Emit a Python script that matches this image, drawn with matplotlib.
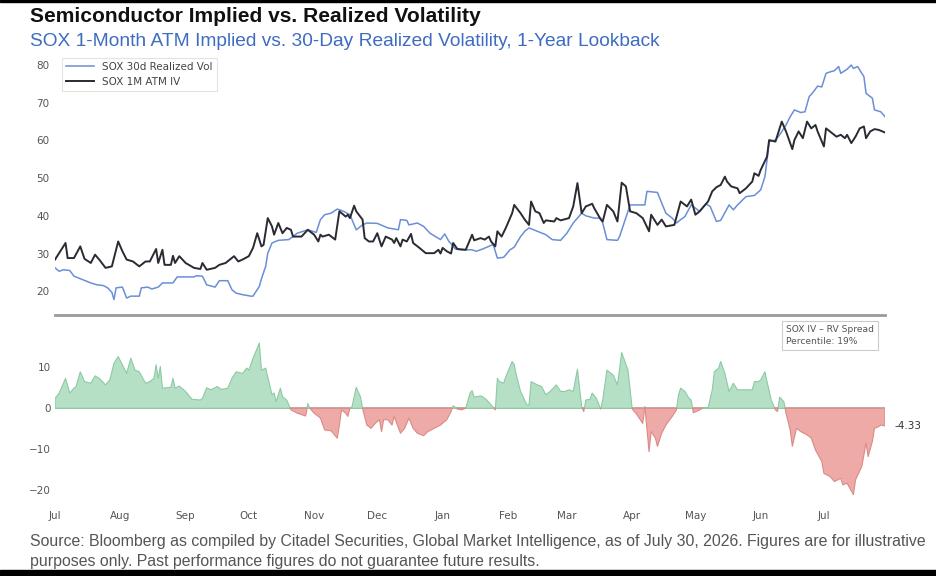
import numpy as np
import pandas as pd
import matplotlib
matplotlib.use('Agg')
from matplotlib import pyplot as plt
import matplotlib.dates as mdates
from matplotlib.patches import Rectangle

# day offsets from 1 Jul 2025
start = pd.Timestamp('2025-07-01')

iv_days = [0, 5, 6, 9, 12, 14, 17, 19, 21, 24, 27, 30, 32, 34, 37, 40, 43, 45, 48, 49,
           51, 52, 55, 56, 57, 59, 62, 66, 69, 70, 72, 76, 78, 81, 85, 87, 89, 92, 94, 96,
           98, 99, 101, 103, 104, 106, 108, 110, 112, 113, 117, 120, 123, 125, 126, 127, 130, 133, 135, 138,
           139, 140, 142, 143, 146, 147, 149, 151, 153, 155, 157, 160, 161, 162, 164, 165, 167, 169, 170, 173,
           176, 180, 182, 183, 184, 186, 188, 189, 191, 195, 198, 199, 202, 204, 206, 207, 209, 210, 212, 214,
           217, 218, 221, 223, 225, 226, 228, 230, 232, 233, 237, 238, 240, 244, 246, 248, 250, 252, 255, 256,
           259, 260, 262, 265, 267, 269, 271, 273, 276, 279, 282, 283, 286, 288, 290, 294, 297, 300, 302, 304,
           306, 310, 312, 314, 316, 318, 319, 321, 324, 325, 328, 331, 332, 334, 335, 338, 339, 342, 345, 347,
           350, 351, 353, 355, 357, 359, 361, 362, 365, 366, 369, 371, 373, 375, 376, 378, 380, 382, 384, 385,
           387, 389, 391, 394]
iv_vals = [28.4, 32.8, 28.8, 28.8, 31.9, 28.6, 27.5, 29.7, 28.4, 26.2, 26.6, 33.2, 30.6, 28.4, 27.9, 26.6, 27.9, 27.9, 31.2, 27.5,
           31.0, 27.0, 27.0, 29.4, 27.5, 29.3, 27.5, 26.2, 25.9, 27.5, 25.7, 26.2, 27.0, 27.5, 29.3, 27.9, 28.4, 29.3, 31.5, 35.4,
           31.9, 32.3, 39.4, 37.2, 35.0, 38.1, 35.4, 36.8, 36.3, 34.5, 34.5, 36.3, 35.0, 33.2, 35.0, 34.5, 35.0, 33.7, 41.2, 39.8,
           40.3, 39.4, 42.7, 41.2, 39.0, 34.1, 33.2, 33.2, 35.4, 31.9, 34.5, 33.7, 32.8, 34.1, 31.9, 33.7, 33.2, 35.2, 32.8, 31.5,
           30.1, 30.1, 31.0, 30.0, 31.5, 30.6, 30.0, 32.8, 31.2, 31.0, 35.0, 33.5, 34.1, 33.7, 34.5, 33.2, 31.9, 35.9, 34.5, 36.8,
           40.7, 42.9, 40.7, 39.0, 37.6, 43.8, 41.2, 40.7, 38.1, 38.8, 38.5, 39.4, 38.8, 39.4, 42.5, 48.7, 40.7, 42.5, 43.2, 42.0,
           39.1, 38.5, 42.9, 41.2, 38.5, 48.8, 47.8, 41.2, 40.7, 39.4, 35.9, 40.3, 37.6, 39.0, 37.2, 37.6, 43.8, 42.5, 44.3, 40.3,
           41.2, 43.8, 46.5, 47.6, 48.2, 50.4, 49.1, 47.8, 47.3, 46.0, 47.3, 49.1, 51.3, 50.6, 52.2, 55.7, 60.1, 59.7, 65.0, 62.4,
           57.7, 60.1, 62.4, 60.6, 65.0, 63.2, 64.1, 62.4, 58.4, 63.2, 61.9, 61.0, 61.5, 60.6, 61.5, 59.3, 61.0, 63.2, 63.7, 60.6,
           62.4, 63.0, 62.8, 62.1]

rv_days = [0, 2, 4, 7, 9, 13, 17, 20, 23, 25, 27, 28, 29, 32, 34, 36, 40, 41, 44, 46,
           49, 51, 56, 58, 66, 67, 70, 72, 76, 78, 82, 84, 86, 89, 93, 94, 97, 98, 100, 101,
           103, 106, 111, 115, 120, 124, 126, 128, 131, 134, 137, 140, 143, 146, 148, 153, 158, 163, 164, 167,
           168, 172, 175, 178, 181, 183, 185, 187, 188, 190, 193, 198, 200, 203, 208, 210, 213, 216, 218, 221,
           223, 225, 229, 233, 236, 240, 243, 246, 250, 252, 256, 259, 260, 262, 267, 268, 273, 280, 281, 286,
           288, 290, 293, 295, 297, 299, 302, 306, 309, 311, 314, 316, 320, 322, 324, 328, 332, 335, 337, 338,
           339, 342, 344, 347, 349, 351, 354, 356, 358, 360, 362, 364, 366, 368, 370, 372, 373, 376, 378, 379,
           381, 384, 385, 388, 389, 392, 394]
rv_vals = [26.2, 25.3, 25.7, 25.5, 24.0, 23.1, 22.2, 21.7, 21.5, 20.9, 19.7, 17.8, 20.9, 21.1, 18.2, 18.7, 18.7, 20.9, 21.1, 20.6,
           21.1, 22.2, 22.2, 23.8, 23.8, 24.1, 24.0, 21.7, 21.1, 22.8, 22.8, 20.4, 19.5, 19.1, 18.7, 18.7, 21.3, 23.3, 26.6, 30.1,
           32.8, 33.5, 33.7, 35.4, 36.3, 35.6, 39.0, 40.3, 40.7, 41.8, 41.2, 40.3, 36.3, 37.6, 38.1, 38.0, 36.8, 36.3, 39.0, 38.8,
           37.6, 38.1, 37.2, 35.4, 34.4, 33.7, 35.2, 33.2, 32.6, 31.2, 31.0, 31.0, 30.6, 31.2, 32.4, 28.8, 29.0, 31.0, 31.7, 34.5,
           35.9, 36.8, 35.9, 35.0, 33.7, 33.5, 35.4, 38.1, 40.7, 40.0, 39.4, 39.4, 38.1, 33.7, 33.5, 34.5, 42.9, 42.9, 46.5, 46.2,
           43.4, 40.7, 39.4, 38.1, 39.0, 39.8, 42.9, 41.2, 43.2, 42.5, 38.5, 38.8, 42.9, 41.6, 42.9, 45.1, 45.4, 46.9, 50.4, 54.8,
           59.7, 60.1, 61.5, 64.1, 66.3, 68.1, 67.4, 67.6, 71.6, 72.9, 74.4, 74.2, 77.8, 78.2, 78.5, 79.6, 77.8, 78.9, 80.0, 79.1,
           79.6, 76.9, 72.5, 71.2, 68.1, 67.6, 66.3]

spread_days = [0, 2, 5, 7, 9, 10, 12, 14, 17, 19, 21, 24, 26, 28, 30, 32, 34, 36, 38, 40,
               43, 45, 47, 48, 49, 50, 51, 55, 56, 57, 59, 62, 65, 69, 70, 72, 74, 77, 79, 82,
               84, 86, 89, 91, 92, 94, 97, 98, 100, 103, 104, 105, 107, 108, 110, 112, 115, 119, 120, 121,
               123, 126, 128, 131, 134, 135, 136, 138, 139, 140, 141, 143, 145, 146, 148, 150, 152, 154, 155, 156,
               158, 160, 161, 164, 166, 168, 170, 172, 175, 177, 180, 183, 186, 188, 189, 191, 193, 195, 197, 198,
               199, 202, 203, 205, 207, 209, 210, 211, 213, 214, 217, 218, 219, 221, 224, 225, 226, 229, 231, 233,
               235, 238, 240, 242, 244, 246, 248, 250, 251, 252, 254, 255, 257, 259, 260, 262, 265, 267, 269, 272,
               274, 276, 279, 280, 282, 283, 285, 286, 288, 290, 293, 295, 296, 297, 299, 301, 302, 303, 306, 308,
               310, 312, 313, 315, 316, 318, 320, 322, 324, 327, 331, 332, 334, 335, 337, 338, 340, 342, 343, 344,
               346, 347, 349, 350, 352, 354, 357, 359, 361, 364, 365, 368, 370, 373, 374, 376, 379, 380, 383, 385,
               386, 388, 389, 391, 392, 394]
spread_vals = [2.4, 3.7, 7.3, 3.7, 4.9, 5.3, 8.9, 6.5, 6.1, 7.9, 7.3, 5.7, 6.9, 11.0, 12.6, 10.6, 8.5, 12.2, 9.3, 8.9,
               6.1, 6.5, 7.3, 10.6, 7.3, 10.2, 4.9, 5.1, 7.3, 4.9, 5.4, 4.1, 2.2, 2.0, 2.4, 5.0, 4.5, 5.3, 4.6, 4.9,
               7.3, 8.9, 8.5, 9.8, 9.3, 12.2, 15.9, 9.3, 9.8, 3.3, 3.7, 1.6, 4.9, 2.8, 2.0, -0.4, -1.2, -1.9, 1.1, 0.0,
               -1.2, -2.4, -5.3, -5.5, -7.3, -4.1, -0.4, -1.2, -2.0, 0.0, 0.4, 5.1, 2.8, 0.0, -4.1, -4.9, -3.7, -2.8, -5.7, -2.8,
               -2.8, -4.1, -2.0, -6.1, -4.9, -2.4, -4.9, -6.1, -6.7, -5.7, -4.9, -4.1, -2.8, -0.8, 0.6, -0.2, -0.4, 0.0, 3.7, 4.3,
               2.7, 3.0, 2.8, 2.0, 0.8, -0.4, 7.3, 6.5, 6.1, 7.7, 11.4, 10.6, 8.1, 4.1, 0.8, 0.8, 6.5, 5.7, 5.3, 3.3,
               4.1, 5.7, 4.1, 4.1, 4.5, 4.1, 9.5, 0.4, -0.8, 2.0, 2.2, 3.7, 2.4, -0.2, 2.0, 9.3, 8.1, 5.7, 13.6, 9.3,
               -0.2, -1.4, -3.7, 0.4, -10.6, -5.7, -7.3, -9.3, -6.1, -4.1, -2.0, -0.4, 3.3, 4.9, 4.1, 2.4, 2.0, -1.1, -0.4, 0.2,
               0.0, 4.5, 8.9, 9.8, 11.4, 8.5, 4.1, 6.1, 4.5, 4.5, 4.5, 6.5, 6.5, 6.9, 8.9, 6.5, 2.0, -0.4, -0.8, 2.7,
               1.6, -1.2, -5.3, -9.3, -4.9, -5.7, -6.5, -7.3, -10.2, -13.0, -15.9, -16.7, -17.9, -17.1, -18.7, -18.3, -21.1, -17.5, -14.2, -8.5,
               -11.8, -8.1, -4.9, -4.5, -4.1, -4.33]

percentile_note = "SOX IV \u2013 RV Spread\nPercentile: 19%"

iv_dates = start + pd.to_timedelta(iv_days, unit='D')
rv_dates = start + pd.to_timedelta(rv_days, unit='D')
sp_dates = start + pd.to_timedelta(spread_days, unit='D')
sp = np.array(spread_vals)

W, H = 937, 576
fig = plt.figure(figsize=(W / 100, H / 100), dpi=100)
fig.patch.set_facecolor('white')

# top panel: IV vs RV
ax1 = fig.add_axes([55 / W, 1 - 315 / H, 830 / W, 257.5 / H])
ax1.plot(rv_dates, rv_vals, color='#6a8fd6', lw=1.1, label='SOX 30d Realized Vol')
ax1.plot(iv_dates, iv_vals, color='#2a2a33', lw=1.4, label='SOX 1M ATM IV')
ax1.set_xlim(start, start + pd.Timedelta(days=394))
ax1.set_ylim(13.7, 82)
ax1.set_yticks([20, 30, 40, 50, 60, 70, 80])
ax1.tick_params(axis='y', length=0, pad=4, labelsize=7.5, labelcolor='#555555')
ax1.tick_params(axis='x', length=0, labelbottom=False)
for s in ['top', 'right', 'left']:
    ax1.spines[s].set_visible(False)
ax1.spines['bottom'].set_color('#9a9a9a')
ax1.spines['bottom'].set_linewidth(2)
leg = ax1.legend(loc='upper left', bbox_to_anchor=(0.008, 1.0), borderaxespad=0,
                 fontsize=7.5, handlelength=2.7, frameon=True, fancybox=False,
                 labelcolor='#444444')
leg.get_frame().set_edgecolor('#dddddd')
leg.get_frame().set_linewidth(0.8)

# bottom panel: spread
ax2 = fig.add_axes([55 / W, 1 - 500 / H, 830 / W, 170 / H])
ax2.fill_between(sp_dates, sp, 0, where=sp >= 0, interpolate=True,
                 facecolor='#b5e0c6', edgecolor='#8ccaa4', lw=0.8)
ax2.fill_between(sp_dates, sp, 0, where=sp <= 0, interpolate=True,
                 facecolor='#eeaaa7', edgecolor='#d98b88', lw=0.8)
ax2.axhline(0, color='#b0b0b0', lw=1.3, zorder=0)
ax2.set_xlim(start, start + pd.Timedelta(days=394))
ax2.set_ylim(-22.4, 19.1)
ax2.set_yticks([-20, -10, 0, 10])
ax2.xaxis.set_major_locator(mdates.MonthLocator())
ax2.xaxis.set_major_formatter(mdates.DateFormatter('%b'))
ax2.tick_params(axis='y', length=0, pad=3, labelsize=7.5, labelcolor='#555555')
ax2.tick_params(axis='x', length=0, pad=8, labelsize=7.5, labelcolor='#555555')
for s in ax2.spines.values():
    s.set_visible(False)
ax2.annotate(f"{spread_vals[-1]:.2f}", xy=(sp_dates[-1], spread_vals[-1]),
             xytext=(7, 0), textcoords='offset points', va='center', ha='left',
             fontsize=7.5, color='#333333', annotation_clip=False)

fig.text(786 / W, 1 - 325 / H, percentile_note, fontsize=6.6, color='#555555',
         va='top', ha='left', linespacing=1.4,
         bbox=dict(boxstyle='square,pad=0.45', fc='white', ec='#cccccc', lw=0.8))

# titles
fig.text(30 / W, 1 - 22 / H, 'Semiconductor Implied vs. Realized Volatility',
         fontsize=15.1, fontweight='bold', family='Liberation Sans', va='baseline', color='#111111')
fig.text(30 / W, 1 - 46 / H, 'SOX 1-Month ATM Implied vs. 30-Day Realized Volatility, 1-Year Lookback',
         fontsize=13.75, family='Liberation Sans', va='baseline', color='#3d6cc0')

# footnote
fig.text(30 / W, 1 - 546 / H,
         'Source: Bloomberg as compiled by Citadel Securities, Global Market Intelligence, as of July 30, 2026. '
         'Figures are for illustrative',
         fontsize=11.4, family='Liberation Sans', va='baseline', color='#555555')
fig.text(30 / W, 1 - 566 / H,
         'purposes only. Past performance figures do not guarantee future results.',
         fontsize=11.4, family='Liberation Sans', va='baseline', color='#555555')

# black edges of the screenshot
fig.add_artist(Rectangle((0, 1 - 2 / H), 1, 2 / H, transform=fig.transFigure, color='black'))
fig.add_artist(Rectangle((0, 0), 1, 6 / H, transform=fig.transFigure, color='black'))

fig.savefig('out.png', dpi=100)
